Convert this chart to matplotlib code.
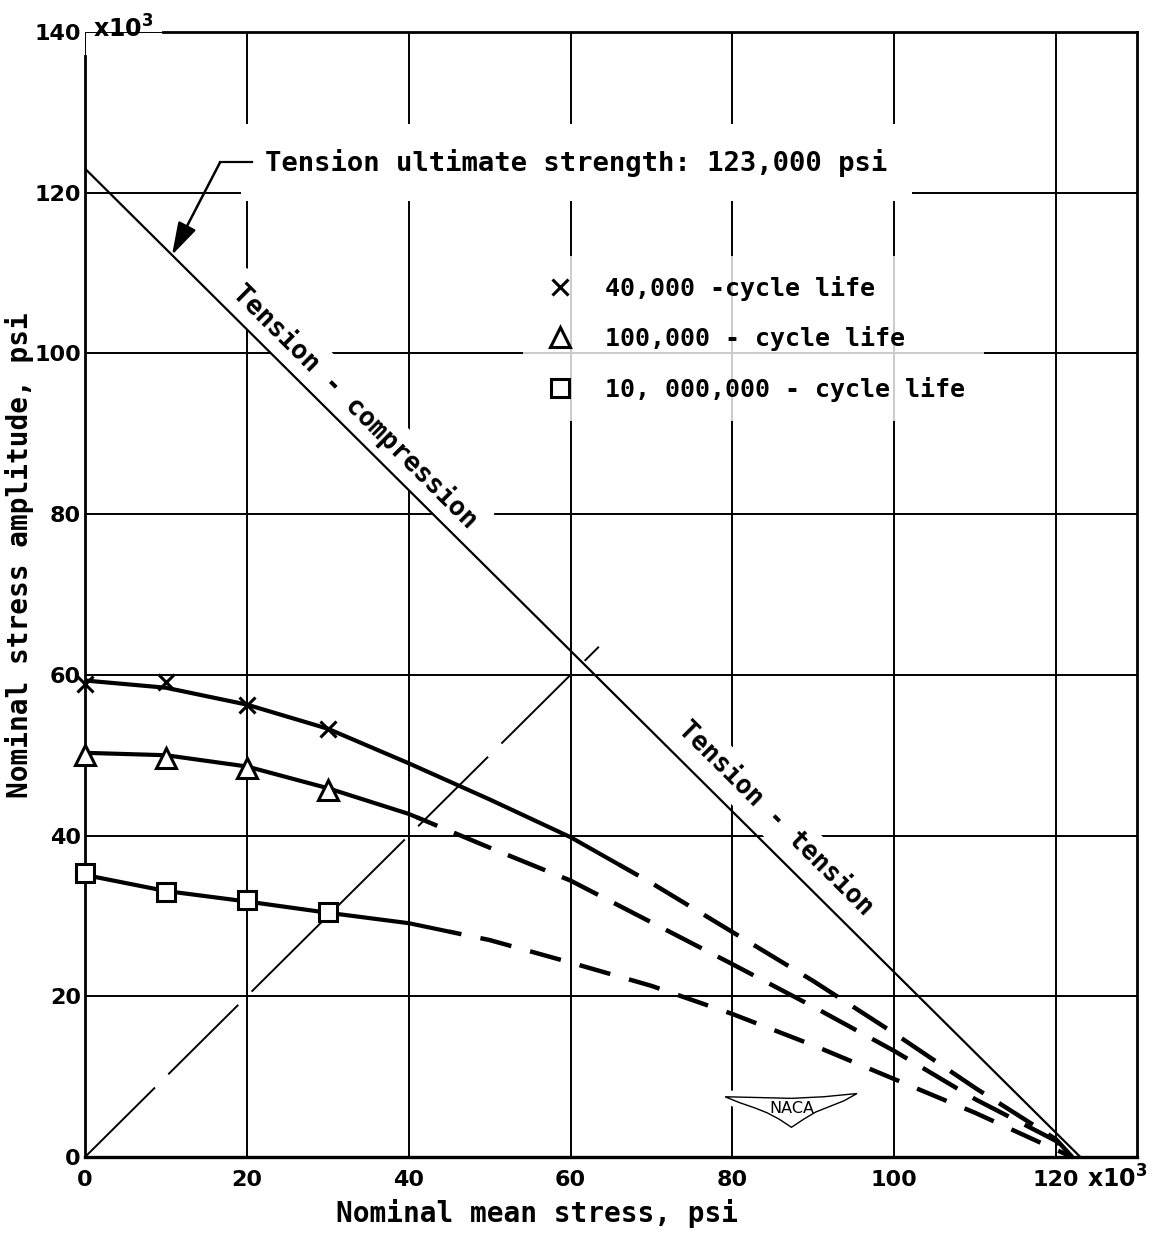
import numpy as np
import matplotlib.pyplot as plt
from matplotlib.lines import Line2D
from matplotlib.patches import Polygon

plt.rcParams['font.family'] = ['DejaVu Sans']
plt.rcParams['font.weight'] = 'bold'
plt.rcParams['axes.labelweight'] = 'bold'
plt.rcParams['mathtext.fontset'] = 'dejavusans'
plt.rcParams['lines.scale_dashes'] = False

LETTER = ['DejaVu Sans Mono', 'DejaVu Sans']   # lettering-guide look

# values, in units of 1000 psi
test_mean = [0, 10, 20, 30]
amp_40k = [58.9, 59.1, 56.2, 53.3]
amp_100k = [50.0, 49.6, 48.4, 45.7]
amp_10m = [35.3, 33.0, 32.0, 30.5]

# faired curves (solid where backed by tests, dashed beyond)
fair_mean = [0, 10, 20, 30, 40, 50, 60, 70, 80, 90, 100, 110, 120, 122]
fair_40k = [59.3, 58.4, 56.3, 53.3, 49.0, 44.5, 39.8, 34.1, 28.0, 21.9, 15.4, 8.6, 2.2, 0]
fair_100k = [50.3, 50.0, 48.6, 45.9, 42.7, 38.5, 34.4, 29.2, 24.0, 18.7, 13.2, 7.2, 2.0, 0]
fair_10m = [35.1, 33.1, 31.8, 30.4, 29.1, 27.0, 24.2, 21.3, 17.8, 13.9, 9.7, 5.5, 0.9, 0]
solid_until = [66, 41, 45]

labels = ['40,000 -cycle life', '100,000 - cycle life', '10, 000,000 - cycle life']

ultimate = 123      # tension ultimate strength
arrow_at = 10.75    # where the leader arrow touches the ultimate line
bisector_end = 63.5

xticks = [0, 20, 40, 60, 80, 100, 120]
yticks = [0, 20, 40, 60, 80, 100, 120, 140]

fig = plt.figure(figsize=(11.55, 12.36), dpi=100)
ax = fig.add_axes([0.0736, 0.0639, 0.9108, 0.9102])
ax.set_xlim(0, 130)
ax.set_ylim(0, 140)

ax.set_xticks(xticks)
ax.set_yticks(yticks)
ax.set_xticklabels([str(v) for v in xticks])
ax.set_yticklabels([str(v) for v in yticks])
ax.tick_params(length=0, labelsize=16)
ax.tick_params(axis='x', pad=9)
ax.tick_params(axis='y', pad=3)
ax.grid(True, color='k', lw=1.4, zorder=1)
ax.set_axisbelow(True)

for side in ['left', 'right', 'top']:
    ax.spines[side].set_linewidth(2.0)
ax.spines['bottom'].set_linewidth(2.4)
ax.spines['left'].set_bounds(0, 137)
ax.spines['top'].set_bounds(9.6, 130)

ax.text(1.0, 140.4, r'x10$^{\mathbf{3}}$', fontsize=17, ha='left', va='center', clip_on=False)
ax.annotate(r'x10$^{\mathbf{3}}$', xy=(120, 0), xycoords='data', xytext=(22, -16),
            textcoords='offset points', fontsize=17, ha='left', va='center',
            annotation_clip=False)

ax.set_xlabel('Nominal mean stress, psi', fontsize=20, va='center', family=LETTER)
ax.xaxis.set_label_coords(0.43, -0.0498)
ax.set_ylabel('Nominal stress amplitude, psi', fontsize=20, va='center', ha='center',
              family=LETTER)
ax.yaxis.set_label_coords(-0.0625, 0.535)

# reference lines
ax.plot([0, ultimate], [ultimate, 0], color='k', lw=1.6, zorder=4)
ax.plot([0, bisector_end], [0, bisector_end], color='k', lw=1.4,
        dashes=(71, 13.5), zorder=3)

# curves
fits = [fair_40k, fair_100k, fair_10m]
dash_styles = [(29, 13), (29, 13), (23, 14)]
xs = np.array(fair_mean, float)
for yv, xb, ds in zip(fits, solid_until, dash_styles):
    ys = np.array(yv, float)
    yb = np.interp(xb, xs, ys)
    m = xs < xb
    ax.plot(np.r_[xs[m], xb], np.r_[ys[m], yb], color='k', lw=3.0,
            solid_capstyle='round', solid_joinstyle='round', zorder=4)
    ax.plot(np.r_[xb, xs[~m]], np.r_[yb, ys[~m]], color='k', lw=3.2,
            linestyle=(ds[1], ds), dash_capstyle='butt', zorder=4)

marker_styles = [dict(marker='x', ms=12), dict(marker='^', ms=15), dict(marker='s', ms=13.5)]
handles = []
for yv, st in zip([amp_40k, amp_100k, amp_10m], marker_styles):
    ax.plot(test_mean, yv, ls='none', mfc='white', mec='k', mew=2.2,
            zorder=5, clip_on=False, **st)
    handles.append(Line2D([], [], ls='none', mfc='white', mec='k', mew=2.2, **st))

leg = ax.legend(handles, labels, loc='upper left', bbox_to_anchor=(0.4163, 0.8009),
                borderaxespad=0, borderpad=0.78, frameon=True, fancybox=False,
                handlelength=1.4, handletextpad=1.1, labelspacing=1.02,
                prop={'size': 18, 'weight': 'bold', 'family': LETTER})
leg.get_frame().set_facecolor('white')
leg.get_frame().set_edgecolor('none')
leg.set_zorder(6)

# annotations
ax.text(22.25, 123.7, 'Tension ultimate strength: 123,000 psi', fontsize=19.6,
        family=LETTER, ha='left', va='center', zorder=2,
        bbox=dict(boxstyle='square,pad=0.9', fc='white', ec='none'))
ax.plot([16.7, 20.6], [123.8, 123.8], color='k', lw=1.6, zorder=4)
ax.annotate('', xy=(arrow_at, ultimate - arrow_at), xytext=(16.7, 123.8),
            arrowprops=dict(arrowstyle='-|>,head_length=1.0,head_width=0.3',
                            lw=1.8, color='k', shrinkA=0, shrinkB=0,
                            mutation_scale=20), zorder=4)

p1 = ax.transData.transform((0, ultimate))
p2 = ax.transData.transform((ultimate, 0))
angle = np.degrees(np.arctan2(p2[1] - p1[1], p2[0] - p1[0]))
ax.text(33.4, 93.4, 'Tension - compression', fontsize=19, family=LETTER, rotation=angle,
        rotation_mode='anchor', ha='center', va='center', zorder=2,
        bbox=dict(boxstyle='square,pad=0.3', fc='white', ec='none'))
ax.text(85.3, 42.1, 'Tension - tension', fontsize=18.5, family=LETTER, rotation=angle,
        rotation_mode='anchor', ha='center', va='center', zorder=2,
        bbox=dict(boxstyle='square,pad=0.3', fc='white', ec='none'))

# NACA wing emblem
wing = np.array([(-8.2, 1.6), (-4, 1.5), (0, 1.4), (4, 1.6), (8.1, 2.0), (6.5, 1.1),
                 (4.5, 0.3), (3, -0.3), (1.5, -1.2), (0, -2.2), (-1.5, -1.2),
                 (-3, -0.4), (-4.5, 0.2), (-6.5, 0.9)]) + [87.3, 5.9]
ax.add_patch(Polygon(wing, closed=True, fc='white', ec='white', lw=9, zorder=2))
ax.add_patch(Polygon(wing, closed=True, fc='white', ec='k', lw=1.0, zorder=3))
ax.text(87.3, 6.0, 'NACA', fontsize=11.5, fontweight='normal', ha='center', va='center', zorder=3)

fig.savefig('out.png', dpi=100)
